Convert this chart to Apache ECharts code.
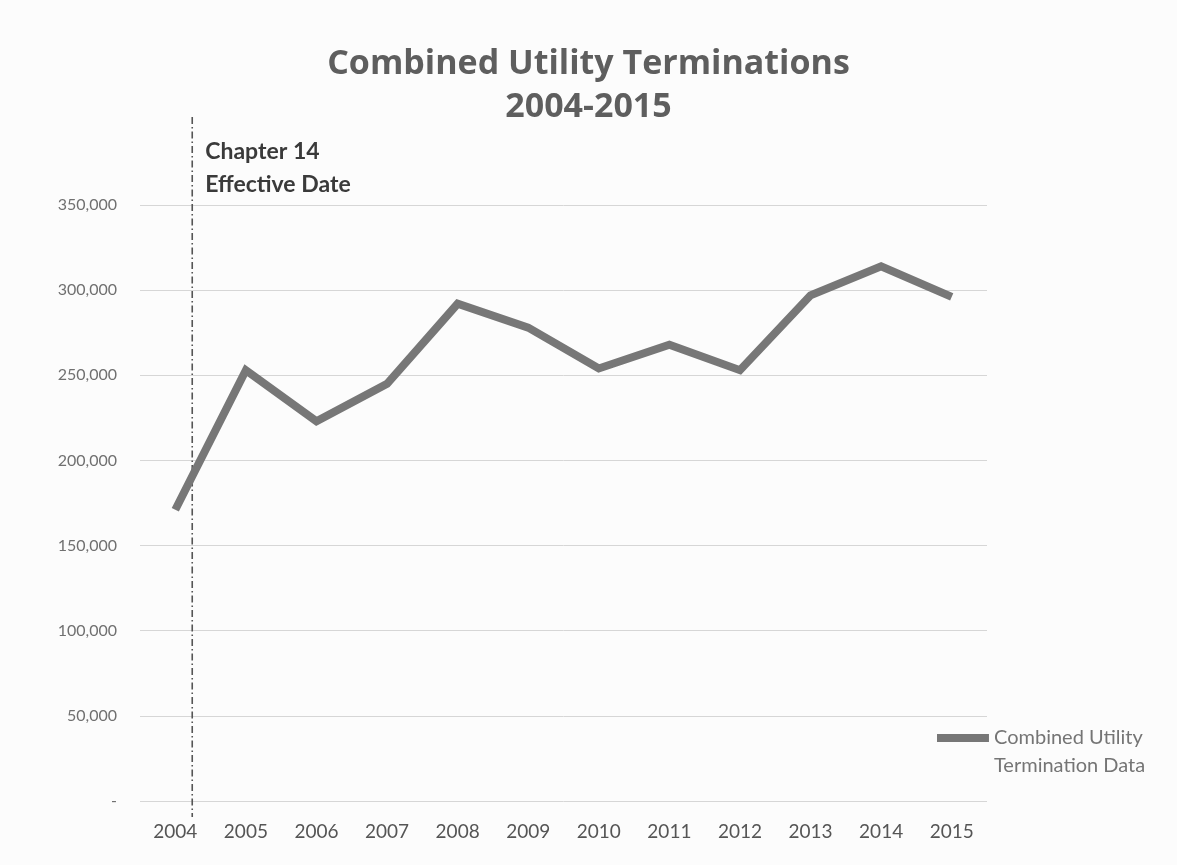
<!DOCTYPE html>
<html>
<head>
<meta charset="utf-8">
<script src="https://cdn.jsdelivr.net/npm/echarts@6/dist/echarts.min.js"></script>
<style>
html,body{margin:0;padding:0;background:#fcfcfc;}
#chart{width:1177px;height:865px;}
</style>
</head>
<body>
<div id="chart"></div>
<script>
const years = ['2004','2005','2006','2007','2008','2009','2010','2011','2012','2013','2014','2015'];
const terminations = [171000, 253000, 223000, 245000, 292000, 278000, 254000, 268000, 253000, 297000, 314000, 296000];
const seriesName = 'Combined Utility Termination Data';
const yTicks = { min: 0, max: 350000, interval: 50000 };
const chapter14Position = 0.24; // fraction of the way from the 2004 category to the 2005 category
const chapter14Label = ['Chapter 14', 'Effective Date'];
const titleLines = ['Combined Utility Terminations', '2004-2015'];

const FONT = 'Lato, "Open Sans", sans-serif';
const chart = echarts.init(document.getElementById('chart'));

const option = {
  backgroundColor: '#fcfcfc',
  animation: false,
  title: {
    text: titleLines.join('\n'),
    left: 'center',
    top: 38,
    textStyle: { fontFamily: '"Open Sans", sans-serif', fontSize: 34, fontWeight: 'bold', color: '#5e5e5e', lineHeight: 43 }
  },
  grid: { left: 140, right: 190, top: 205, bottom: 64, containLabel: false },
  legend: {
    show: true,
    left: 932,
    top: 719,
    orient: 'vertical',
    icon: 'path://M0,0h0.05v0.05h-0.05z M0,10h52v8h-52z M0,56h0.05v0.05h-0.05z',
    itemWidth: 52,
    itemHeight: 56,
    itemStyle: { borderWidth: 0 },
    lineStyle: { width: 0 },
    formatter: function () { return 'Combined Utility\nTermination Data'; },
    textStyle: { fontFamily: FONT, fontSize: 20, color: '#757575', lineHeight: 28 },
    data: [seriesName]
  },
  xAxis: {
    type: 'category',
    data: years,
    boundaryGap: true,
    axisLine: { show: false },
    axisTick: { show: false },
    axisLabel: { fontFamily: FONT, fontSize: 19, color: '#555', margin: 21 }
  },
  yAxis: {
    type: 'value',
    min: yTicks.min,
    max: yTicks.max,
    interval: yTicks.interval,
    axisLine: { show: false },
    axisTick: { show: false },
    splitLine: { lineStyle: { color: '#d6d6d6', width: 1 } },
    axisLabel: {
      fontFamily: FONT, fontSize: 16, color: '#707070', margin: 23,
      formatter: function (v) { return v === 0 ? '-' : v.toLocaleString('en-US'); }
    }
  },
  series: [{
    name: seriesName,
    type: 'line',
    data: terminations,
    symbol: 'none',
    lineStyle: { color: '#777', width: 8, join: 'miter' },
    itemStyle: { color: '#777' }
  }]
};
chart.setOption(option);

// Chapter 14 dashed marker, positioned through the chart's own scales
const x0 = chart.convertToPixel({ xAxisIndex: 0 }, years[0]);
const x1 = chart.convertToPixel({ xAxisIndex: 0 }, years[1]);
const xPix = x0 + (x1 - x0) * chapter14Position;
const yTopPix = chart.convertToPixel({ yAxisIndex: 0 }, yTicks.max);
chart.setOption({
  graphic: [
    {
      type: 'line',
      shape: { x1: xPix, y1: yTopPix - 88, x2: xPix, y2: yTopPix + 612 },
      style: { stroke: '#555', lineWidth: 1.6, lineDash: [7, 3, 1.5, 3] },
      silent: true
    },
    {
      type: 'text',
      left: xPix + 13,
      top: yTopPix - 70,
      style: { text: chapter14Label.join('\n'), fontFamily: FONT, fontSize: 23, fontWeight: 'bold', fill: '#3a3a3a', lineHeight: 33 },
      silent: true
    }
  ]
});
</script>
</body>
</html>
